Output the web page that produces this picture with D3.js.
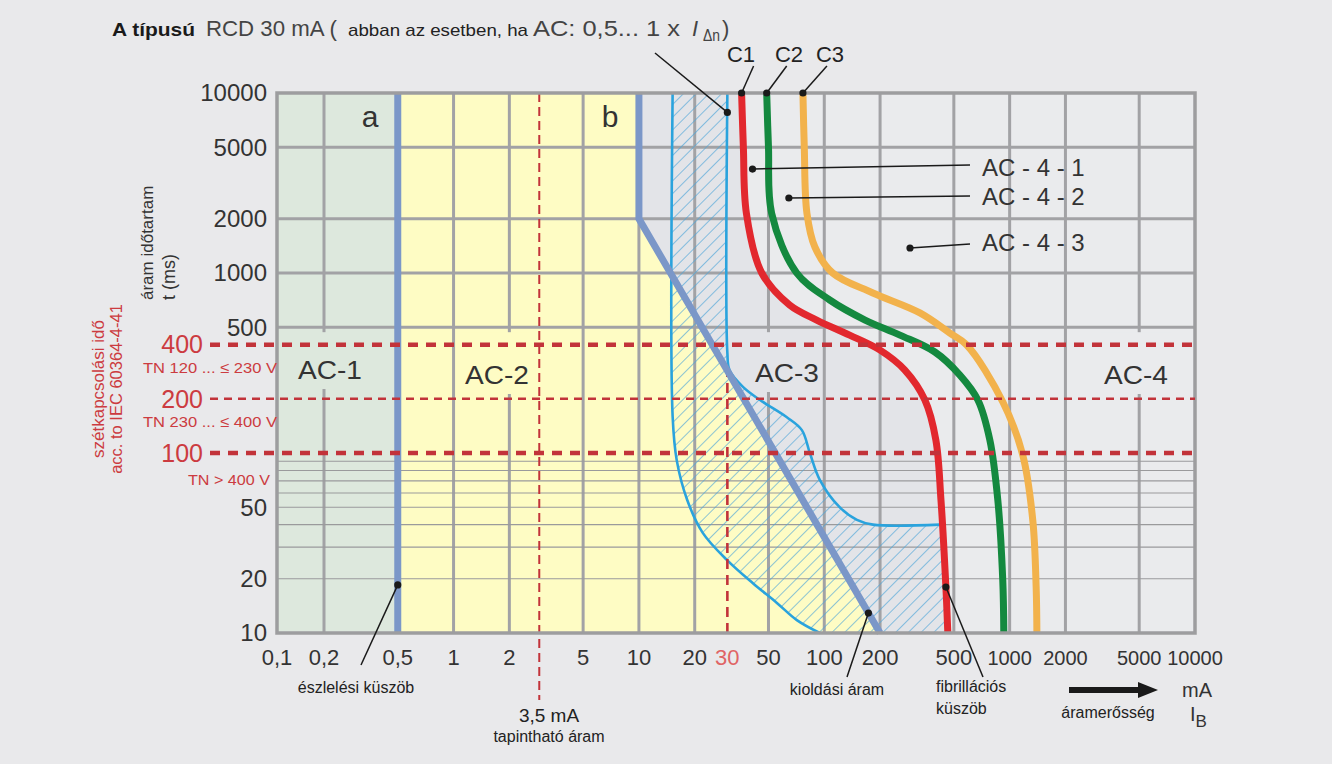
<!DOCTYPE html>
<html><head><meta charset="utf-8">
<script src="https://cdn.jsdelivr.net/npm/d3@7"></script>
<style>
html,body{margin:0;padding:0;background:#e9e9eb;}
svg{display:block;font-family:"Liberation Sans",Arial,sans-serif;}
</style></head><body>
<svg id="chart" width="1332" height="764"></svg>
<script>
// ---------- data ----------
const xTickValues = [0.1,0.2,0.5,1,2,5,10,20,30,50,100,200,500,1000,2000,5000,10000];
const xTickLabels = ["0,1","0,2","0,5","1","2","5","10","20","30","50","100","200","500","1000","2000","5000","10000"];
const yTickValues = [10000,5000,2000,1000,500,50,20,10];
const yTickLabels = ["10000","5000","2000","1000","500","50","20","10"];
const disconnectTimes = [400,200,100];
const disconnectLabels = ["400","200","100"];
const disconnectNotes = ["TN 120 ... \u2264 230 V","TN 230 ... \u2264 400 V","TN > 400 V"];
const majorGridX = [0.2,1,2,5,10,20,50,100,200,500,1000,2000,5000];
const majorGridY = [5000,2000,1000,500];
const minorGridY = [90,80,70,60,50,40,30,20];
// curves: [current mA, time ms]
const curveA = [[0.5,10000],[0.5,10]];
const curveB = [[10,10000],[10,2000],[200,10]];
const curveC1 = [[35.8,10000],[36.6,5000],[38,2150],[46,1000],[65,664],[91,548],[137,452],[200,373],[272,289],[349,197],[400,118],[426,55],[453,18],[464,10]];
const curveC2 = [[48.9,10000],[50,5000],[52,2150],[71,1000],[107,708],[166,548],[256,452],[395,364],[539,271],[674,197],[782,118],[863,55],[918,19.7],[930,10]];
const curveC3 = [[76.7,10000],[78,5000],[80.6,2150],[89,1394],[111,1000],[183,774],[328,600],[476,464],[587,398],[919,192],[1178,97],[1334,42],[1390,18],[1403,10]];
const tripLeft = [[15.2,10000],[15.2,160],[16,91],[18.2,55],[22.1,36],[29.9,25.4],[41.2,18.9],[55.5,14.7],[71.1,11.8],[94.6,10]];
const tripRight = [[30,10000],[30,360],[30.8,289],[36.4,233],[45,197],[62.8,158],[75.7,134],[83.6,100],[94.6,71],[121,50],[150,42.5],[183,40],[421,40]];
const tripBottomRight = [[464,10],[430,40]];
const touchCurrent = 2.9;     // position of the "3,5 mA" marker as drawn
const ratedCurrent = 30;
const detectionPoint = [0.5,18.5];
const tripPoint = [173,12.9];
const fibrillationPoint = [453,18];

// ---------- setup ----------
const W = 1332, H = 764;
const svg = d3.select("#chart");
const x = d3.scaleLog().domain([0.1,0.2,10000]).range([277,324,1195]);
const y = d3.scaleLog().domain([10,10000]).range([633,93]);
const X0 = x(0.1), X1 = x(10000), Y0 = y(10000), Y1 = y(10);
const col = {bg:"#e9e9eb", ac1:"#dde8dd", ac2:"#fefcc4", ac3:"#e3e4e8", ac4:"#eaebed",
  grid:"#a2a2a5", ab:"#7b97c8", c1:"#e2282e", c2:"#14893f", c3:"#f2b24c",
  trip:"#2aa3dd", red:"#c2333a", redTxt:"#cc3b40", txt:"#333"};
const cr = d3.curveCatmullRom.alpha(0.5);
const lineP = d3.line().x(d=>x(d[0])).y(d=>y(d[1]));
const lineC = d3.line().curve(cr).x(d=>x(d[0])).y(d=>y(d[1]));

const defs = svg.append("defs");
const pat = defs.append("pattern").attr("id","hatch").attr("patternUnits","userSpaceOnUse")
  .attr("width",9).attr("height",9).attr("patternTransform","rotate(45)");
pat.append("line").attr("x1",0).attr("y1",0).attr("x2",0).attr("y2",9)
  .attr("stroke","#4ea6d8").attr("stroke-width",1.3);

// ---------- regions ----------
svg.append("rect").attr("width",W).attr("height",H).attr("fill",col.bg);
svg.append("rect").attr("x",X0).attr("y",Y0).attr("width",X1-X0).attr("height",Y1-Y0).attr("fill",col.ac3);
const area4 = d3.area().curve(cr).y(d=>y(d[1])).x0(d=>x(d[0])).x1(X1);
svg.append("path").attr("d",area4(curveC1)).attr("fill",col.ac4);
const ac2Poly = [curveA[0], ...curveB, curveA[1]];
svg.append("path").attr("d",lineP(ac2Poly)+"Z").attr("fill",col.ac2);
svg.append("rect").attr("x",X0).attr("y",Y0).attr("width",x(curveA[0][0])-X0).attr("height",Y1-Y0).attr("fill",col.ac1);

// ---------- grid ----------
const grid = svg.append("g");
grid.selectAll(".gx").data(majorGridX).join("line")
  .attr("x1",d=>x(d)).attr("x2",d=>x(d)).attr("y1",Y0).attr("y2",Y1)
  .attr("stroke",col.grid).attr("stroke-width",3);
grid.selectAll(".gy").data(majorGridY).join("line")
  .attr("x1",X0).attr("x2",X1).attr("y1",d=>y(d)).attr("y2",d=>y(d))
  .attr("stroke",col.grid).attr("stroke-width",3);
grid.selectAll(".gm").data(minorGridY).join("line")
  .attr("x1",X0).attr("x2",X1).attr("y1",d=>y(d)).attr("y2",d=>y(d))
  .attr("stroke","#9a9a9c").attr("stroke-width",1.1);

// ---------- zone labels ----------
const zoneLabels = [
  {t:"AC-1", cx:330, by:379, fill:col.ac1},
  {t:"AC-2", cx:497, by:384, fill:col.ac2},
  {t:"AC-3", cx:787, by:382, fill:col.ac3},
  {t:"AC-4", cx:1136, by:384, fill:col.ac4}];
zoneLabels.forEach(z=>{
  const g = svg.append("g");
  const r = g.append("rect");
  const t = g.append("text").attr("x",z.cx).attr("y",z.by).attr("text-anchor","middle")
    .attr("font-size",26).attr("textLength",64).attr("lengthAdjust","spacingAndGlyphs")
    .attr("fill",col.txt).text(z.t);
  const b = t.node().getBBox();
  r.attr("x",b.x-3).attr("y",y(500)+5).attr("width",b.width+6).attr("height",z.by+10-(y(500)+5)).attr("fill",z.fill);
});
svg.append("text").attr("x",370).attr("y",127).attr("text-anchor","middle").attr("font-size",30).attr("fill",col.txt).text("a");
svg.append("text").attr("x",610).attr("y",127).attr("text-anchor","middle").attr("font-size",30).attr("fill",col.txt).text("b");

// ---------- tripping zone (hatched) ----------
const hatchD = lineC(tripLeft) + lineP(tripBottomRight).replace(/^M/,"L") + lineC(tripRight.slice().reverse()).replace(/^M/,"L") + "Z";
svg.append("path").attr("d",hatchD).attr("fill","url(#hatch)");
svg.append("path").attr("d",lineC(tripLeft)).attr("fill","none").attr("stroke",col.trip).attr("stroke-width",2.6);
svg.append("path").attr("d",lineC(tripRight)).attr("fill","none").attr("stroke",col.trip).attr("stroke-width",2.6);

// ---------- vertical red dashed markers ----------
svg.append("line").attr("x1",x(touchCurrent)).attr("x2",x(touchCurrent)).attr("y1",Y0).attr("y2",700)
  .attr("stroke",col.red).attr("stroke-width",2).attr("stroke-dasharray","9,5");
svg.append("line").attr("x1",x(ratedCurrent)).attr("x2",x(ratedCurrent)).attr("y1",Y1).attr("y2",y(300))
  .attr("stroke",col.red).attr("stroke-width",2.6).attr("stroke-dasharray","10,6");

// ---------- curves ----------
svg.append("path").attr("d",lineP(curveA)).attr("stroke",col.ab).attr("stroke-width",7).attr("fill","none");
svg.append("path").attr("d",lineP(curveB)).attr("stroke",col.ab).attr("stroke-width",7).attr("fill","none");
[[curveC1,col.c1],[curveC2,col.c2],[curveC3,col.c3]].forEach(([c,k])=>{
  svg.append("path").attr("d",lineC(c)).attr("stroke",k).attr("stroke-width",7).attr("fill","none");
});

// ---------- plot border ----------
svg.append("rect").attr("x",X0).attr("y",Y0).attr("width",X1-X0).attr("height",Y1-Y0)
  .attr("fill","none").attr("stroke","#9d9d9f").attr("stroke-width",3.5);

// ---------- disconnection time lines ----------
disconnectTimes.forEach((t,i)=>{
  const thick = t!==200;
  svg.append("line").attr("x1",210).attr("x2",X1).attr("y1",y(t)).attr("y2",y(t))
    .attr("stroke",col.red).attr("stroke-width",thick?4.5:2.4).attr("stroke-dasharray",thick?"10,8":"8,6");
  svg.append("text").attr("x",203).attr("y",y(t)).attr("dy","0.35em").attr("text-anchor","end")
    .attr("font-size",25).attr("fill",col.redTxt).text(disconnectLabels[i]);
  svg.append("text").attr("x",i===2?270:277).attr("y",y(t)+(i===2?32:28)).attr("text-anchor","end")
    .attr("font-size",15.5).attr("textLength",i===2?82:134).attr("lengthAdjust","spacingAndGlyphs")
    .attr("fill",col.redTxt).text(disconnectNotes[i]);
});

// ---------- axis labels ----------
svg.selectAll(".yl").data(yTickValues).join("text")
  .attr("x",267).attr("y",d=>y(d)).attr("dy","0.35em").attr("text-anchor","end")
  .attr("font-size",24).attr("fill",col.txt).text((d,i)=>yTickLabels[i]);
svg.selectAll(".xl").data(xTickValues).join("text")
  .attr("x",d=>x(d)).attr("y",665).attr("text-anchor","middle")
  .attr("font-size",d=>d>=1000?20:22).attr("fill",d=>d===ratedCurrent?"#e06464":col.txt).text((d,i)=>xTickLabels[i]);

// rotated titles
svg.append("text").attr("transform","translate(104,389) rotate(-90)").attr("text-anchor","middle")
  .attr("font-size",17).attr("fill",col.redTxt).text("szétkapcsolási idő");
svg.append("text").attr("transform","translate(122,389) rotate(-90)").attr("text-anchor","middle")
  .attr("font-size",16.5).attr("fill",col.redTxt).text("acc. to IEC 60364-4-41");
svg.append("text").attr("transform","translate(153,300) rotate(-90)")
  .attr("font-size",17).attr("fill",col.txt).text("áram időtartam");
svg.append("text").attr("transform","translate(175,300) rotate(-90)")
  .attr("font-size",18).attr("fill",col.txt).text("t (ms)");

// ---------- title ----------
const tg = svg.append("g").attr("fill","#444");
function tpiece(txt,x0,len,fs,extra){
  const t = tg.append("text").attr("x",x0).attr("y",36).attr("font-size",fs).text(txt);
  if(len) t.attr("textLength",len).attr("lengthAdjust","spacingAndGlyphs");
  if(extra) extra(t);
  return t;
}
tpiece("A típusú",112,83,19,t=>t.attr("font-weight","bold").attr("fill","#1a1a1a"));
tpiece("RCD 30 mA (",206,131,22);
tpiece("abban az esetben, ha",348,180,17,t=>t.attr("fill","#222"));
tpiece("AC: 0,5... 1 x",533,147,22);
tpiece("I",692,null,22,t=>t.attr("font-style","italic"));
tpiece("\u0394n",703,17,16,t=>t.attr("y",41));
tpiece(")",722,null,22);

// ---------- annotations ----------
const ann = svg.append("g").attr("stroke","#1a1a1a").attr("stroke-width",1.5);
function leader(px,py,dataPt){
  const ex=x(dataPt[0]), ey=y(dataPt[1]);
  ann.append("line").attr("x1",px).attr("y1",py).attr("x2",ex).attr("y2",ey);
  svg.append("circle").attr("cx",ex).attr("cy",ey).attr("r",3.6).attr("fill","#1a1a1a");
}
const cLabels = [["C1",curveC1,741,12],["C2",curveC2,789,20],["C3",curveC3,830,24]];
cLabels.forEach(([t,c,cx,dx])=>{
  svg.append("text").attr("x",cx).attr("y",62).attr("text-anchor","middle").attr("font-size",22).attr("fill","#222").text(t);
  leader(x(c[0][0])+dx,66,c[0]);
});
leader(655,53,[ratedCurrent,7800]);

const acLabels = [["AC - 4 - 1",176,[41,3780],165],["AC - 4 - 2",205,[64.4,2610],196],["AC - 4 - 3",251,[290,1377],244]];
acLabels.forEach(([t,by,pt,ly])=>{
  leader(970,ly,pt);
  svg.append("text").attr("x",982).attr("y",by).attr("font-size",24).attr("fill",col.txt).text(t);
});

leader(361,665,detectionPoint);
svg.append("text").attr("x",356).attr("y",693).attr("text-anchor","middle").attr("font-size",16).attr("fill","#222").text("észlelési küszöb");
svg.append("text").attr("x",549).attr("y",722).attr("text-anchor","middle").attr("font-size",19).attr("fill","#222").text("3,5 mA");
svg.append("text").attr("x",549).attr("y",742).attr("text-anchor","middle").attr("font-size",16).attr("fill","#222").text("tapintható áram");
leader(847,677,tripPoint);
svg.append("text").attr("x",837).attr("y",695).attr("text-anchor","middle").attr("font-size",16).attr("fill","#222").text("kioldási áram");
leader(983,677,fibrillationPoint);
svg.append("text").attr("x",936).attr("y",692).attr("font-size",16).attr("fill","#222").text("fibrillációs");
svg.append("text").attr("x",936).attr("y",714).attr("font-size",16).attr("fill","#222").text("küszöb");

// arrow
svg.append("line").attr("x1",1069).attr("x2",1140).attr("y1",690).attr("y2",690).attr("stroke","#1a1a1a").attr("stroke-width",6);
svg.append("path").attr("d","M1138,682 L1158,690 L1138,698 Z").attr("fill","#1a1a1a");
svg.append("text").attr("x",1108).attr("y",718).attr("text-anchor","middle").attr("font-size",16).attr("fill","#222").text("áramerősség");
svg.append("text").attr("x",1197).attr("y",697).attr("text-anchor","middle").attr("font-size",20).attr("fill",col.txt).text("mA");
const ib = svg.append("text").attr("x",1190).attr("y",721).attr("font-size",20).attr("fill",col.txt);
ib.append("tspan").text("I");
ib.append("tspan").attr("dy",6).attr("font-size",17).text("B");
</script>
</body></html>
